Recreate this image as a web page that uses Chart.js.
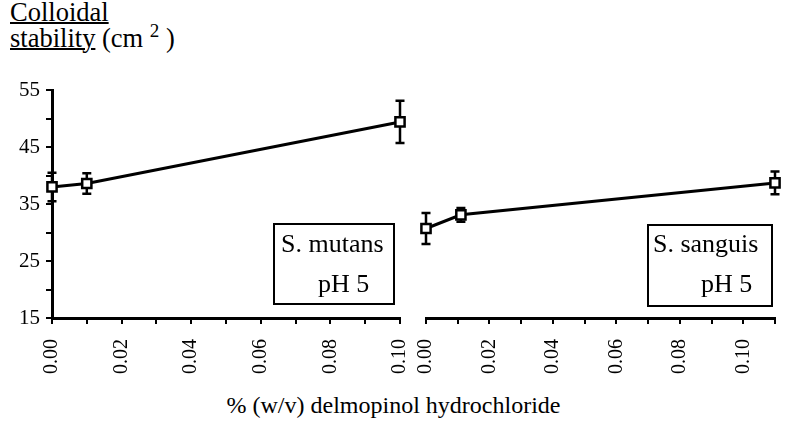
<!DOCTYPE html>
<html>
<head>
<meta charset="utf-8">
<script src="https://cdn.jsdelivr.net/npm/chart.js@4.4.1/dist/chart.umd.min.js"></script>
<style>
  body { margin: 0; background: #fff; }
  #wrap { position: relative; width: 787px; height: 424px; overflow: hidden; font-family: 'Liberation Serif', 'Times New Roman', Tinos, 'DejaVu Serif', serif; color: #000; }
  canvas { position: absolute; }
  .txt { position: absolute; white-space: nowrap; }
  .box { position: absolute; border: 2px solid #000; box-sizing: border-box; }
  sup { font-size: 0.72em; vertical-align: 0.5em; line-height: 0; }
  u { text-decoration-thickness: 2px; }
</style>
</head>
<body>
<div id="wrap">
  <div class="txt" style="left:10px; top:-1px; font-size:26.5px; line-height:26px;">
    <u>Colloidal</u><br><u>stability</u> (cm <sup>2</sup> )
  </div>

  <canvas id="leftChart" width="412" height="300" style="left:0; top:80px;"></canvas>
  <canvas id="rightChart" width="375" height="300" style="left:412px; top:80px;"></canvas>

  <div class="box" style="left:273px; top:223px; width:122px; height:82px;"></div>
  <div class="txt" style="left:281px; top:231px; font-size:26px; line-height:26px;">S. mutans</div>
  <div class="txt" style="left:318px; top:271px; font-size:26px; line-height:26px;">pH 5</div>

  <div class="box" style="left:647px; top:224px; width:126px; height:83px;"></div>
  <div class="txt" style="left:653px; top:231px; font-size:26px; line-height:26px;">S. sanguis</div>
  <div class="txt" style="left:701px; top:271px; font-size:26px; line-height:26px;">pH 5</div>

  <div class="txt" style="left:0; width:787px; text-align:center; top:393px; font-size:24px; line-height:24px;">% (w/v) delmopinol hydrochloride</div>
</div>

<script>
// valeurs
const mutansX = [0, 0.01, 0.10];
const mutansY = [38.0, 38.6, 49.4];
const mutansErr = [2.5, 1.8, 3.7];

const sanguisX = [0, 0.011, 0.11];
const sanguisY = [30.7, 33.1, 38.7];
const sanguisErr = [2.7, 1.2, 2.0];

const yTickLabels = [15, 25, 35, 45, 55];
const xTickLabels = [0, 0.02, 0.04, 0.06, 0.08, 0.10];

Chart.defaults.font.family = "'Liberation Serif', 'Times New Roman', Tinos, 'DejaVu Serif', serif";
Chart.defaults.color = '#000';

// barres d'erreur dessinées sous les marqueurs
const errorBars = {
    id: 'errorBars',
    beforeDatasetsDraw(chart, args, opts) {
        const ctx = chart.ctx;
        const xs = chart.scales.x, ys = chart.scales.y;
        const pts = chart.data.datasets[0].data;
        ctx.save();
        ctx.strokeStyle = '#000';
        ctx.lineWidth = 2.5;
        pts.forEach((p, i) => {
            const x = xs.getPixelForValue(p.x);
            const yTop = ys.getPixelForValue(p.y + opts.err[i]);
            const yBot = ys.getPixelForValue(p.y - opts.err[i]);
            ctx.beginPath();
            ctx.moveTo(x, yTop); ctx.lineTo(x, yBot);
            ctx.moveTo(x - 4.5, yTop); ctx.lineTo(x + 4.5, yTop);
            ctx.moveTo(x - 4.5, yBot); ctx.lineTo(x + 4.5, yBot);
            ctx.stroke();
        });
        ctx.restore();
    }
};

// pas de marges automatiques : la zone du graphe suit layout.padding
function noPad(s) {
    s.paddingLeft = 0; s.paddingRight = 0; s.paddingTop = 0; s.paddingBottom = 0;
}

function makeChart(id, xs, ys, errs, xMax, showY, pad) {
    const ctx = document.getElementById(id).getContext('2d');
    return new Chart(ctx, {
        type: 'scatter',
        data: {
            datasets: [{
                data: xs.map((x, i) => ({ x: x, y: ys[i] })),
                showLine: true,
                borderColor: '#000',
                borderWidth: 3,
                pointStyle: 'rect',
                pointRadius: 6.5,
                pointBackgroundColor: '#fff',
                pointBorderColor: '#000',
                pointBorderWidth: 2.5,
                clip: false
            }]
        },
        plugins: [errorBars],
        options: {
            responsive: false,
            animation: false,
            devicePixelRatio: 1,
            layout: { padding: pad },
            plugins: {
                legend: { display: false },
                tooltip: { enabled: false },
                errorBars: { err: errs }
            },
            scales: {
                x: {
                    type: 'linear',
                    min: 0,
                    max: xMax,
                    afterFit: s => { s.height = 62; noPad(s); },
                    border: { display: true, width: 3, color: '#000' },
                    grid: { drawOnChartArea: false, drawTicks: true, tickLength: 6, lineWidth: 2, color: '#000' },
                    ticks: {
                        stepSize: 0.01,
                        autoSkip: false,
                        minRotation: 90,
                        maxRotation: 90,
                        padding: 15,
                        font: { size: 20 },
                        callback: v => xTickLabels.some(t => Math.abs(t - v) < 1e-6) ? v.toFixed(2) : ''
                    }
                },
                y: {
                    display: showY,
                    min: 15,
                    max: 55,
                    afterFit: s => { if (showY) s.width = 52; noPad(s); },
                    border: { display: true, width: 3, color: '#000' },
                    grid: { drawOnChartArea: false, drawTicks: true, tickLength: 6, lineWidth: 2, color: '#000' },
                    ticks: {
                        stepSize: 5,
                        padding: 6,
                        font: { size: 21 },
                        callback: v => yTickLabels.includes(v) ? String(v) : ''
                    }
                }
            }
        }
    });
}

makeChart('leftChart', mutansX, mutansY, mutansErr, 0.10, true, { top: 10, right: 12, left: 0, bottom: 0 });
makeChart('rightChart', sanguisX, sanguisY, sanguisErr, 0.11, false, { top: 10, right: 12, left: 14, bottom: 0 });
</script>
</body>
</html>
